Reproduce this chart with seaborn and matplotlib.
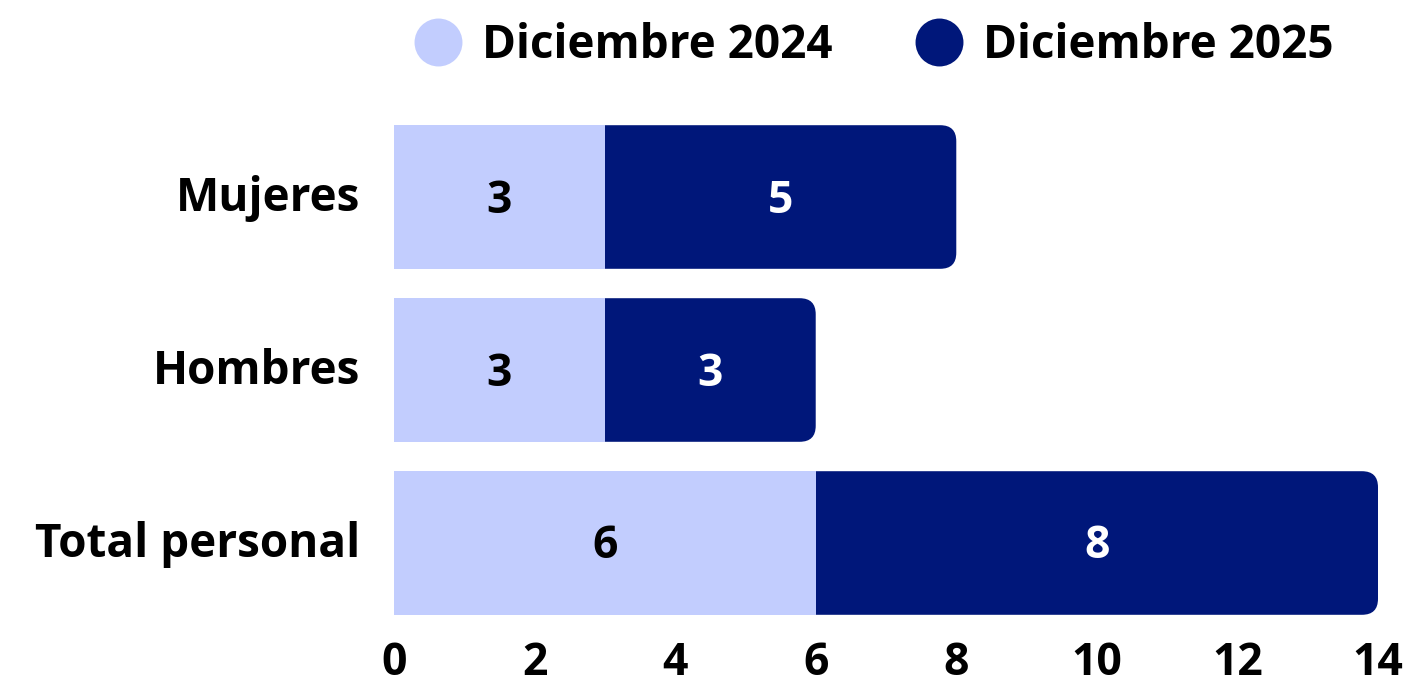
import pandas as pd
import matplotlib.pyplot as plt
import matplotlib.transforms as mtransforms
import seaborn as sns
from matplotlib.path import Path
from matplotlib.patches import PathPatch
from matplotlib.lines import Line2D

# data
categorias = ['Mujeres', 'Hombres', 'Total personal']
dic_2024 = [3, 3, 6]
dic_2025 = [5, 3, 8]
series = ['Diciembre 2024', 'Diciembre 2025']
x_ticks = [0, 2, 4, 6, 8, 10, 12, 14]

color_2024 = '#C2CDFE'
color_2025 = '#00177A'

sns.set_style('white')
plt.rcParams['font.family'] = ['Open Sans', 'DejaVu Sans']
plt.rcParams['font.weight'] = 'bold'
plt.rcParams['text.color'] = 'black'
plt.rcParams['xtick.color'] = 'black'
plt.rcParams['ytick.color'] = 'black'

df = pd.DataFrame({'categoria': categorias, 'd2024': dic_2024, 'd2025': dic_2025})
df['total'] = df['d2024'] + df['d2025']

fig = plt.figure(figsize=(14.22, 6.93), dpi=100)
ax = fig.add_axes([394 / 1422, 1 - 629.5 / 693, 984 / 1422, 519 / 693])

# stacked: draw total in dark, then the 2024 part on top in light
sns.barplot(data=df, y='categoria', x='total', color=color_2025, width=0.83,
            saturation=1, ax=ax, orient='h', linewidth=0, edgecolor='none')
n_dark = len(ax.patches)
sns.barplot(data=df, y='categoria', x='d2024', color=color_2024, width=0.83,
            saturation=1, ax=ax, orient='h', linewidth=0, edgecolor='none')

ax.set_xlim(0, 14)
ax.set_ylim(2.5, -0.5)

# round the right corners of the dark bars
px_x = 984 / 14.0
px_y = 519 / 3.0
r_px = 16
rx, ry = r_px / px_x, r_px / px_y
dark = list(ax.patches[:n_dark])
for p in dark:
    x0, y0 = p.get_x(), p.get_y()
    w, h = p.get_width(), p.get_height()
    x1, y1 = x0 + w, y0 + h
    verts = [(x0, y0), (x1 - rx, y0), (x1, y0), (x1, y0 + ry),
             (x1, y1 - ry), (x1, y1), (x1 - rx, y1), (x0, y1), (x0, y0)]
    codes = [Path.MOVETO, Path.LINETO, Path.CURVE3, Path.CURVE3,
             Path.LINETO, Path.CURVE3, Path.CURVE3, Path.LINETO, Path.CLOSEPOLY]
    ax.add_patch(PathPatch(Path(verts, codes), facecolor=color_2025,
                           edgecolor='none', linewidth=0, zorder=1))
    p.remove()
for p in ax.patches[:len(categorias)]:
    p.set_zorder(3)

# value labels (nudged a few px down like the original)
down = mtransforms.offset_copy(ax.transData, fig=fig, x=0, y=-4, units='dots')
for i, (a, b) in enumerate(zip(dic_2024, dic_2025)):
    ax.text(a / 2, i, str(a), ha='center', va='center', fontsize=32,
            fontweight='bold', color='black', zorder=5, transform=down)
    ax.text(a + b / 2, i, str(b), ha='center', va='center', fontsize=32,
            fontweight='bold', color='white', zorder=5, transform=down)

ax.set_xticks(x_ticks)
ax.set_xticklabels([str(t) for t in x_ticks], fontsize=32, fontweight='bold')
ax.set_yticks(range(len(categorias)))
ax.set_yticklabels(categorias, fontsize=33, fontweight='bold')
ax.tick_params(axis='x', length=0, pad=8)
ax.tick_params(axis='y', length=0, pad=24)
up = mtransforms.ScaledTranslation(0, 4 / 100, fig.dpi_scale_trans)
for lab in ax.get_yticklabels():
    lab.set_transform(lab.get_transform() + up)
ax.set_xlabel('')
ax.set_ylabel('')
sns.despine(ax=ax, left=True, bottom=True)

handles = [Line2D([], [], marker='o', linestyle='none', markersize=34.5,
                  markerfacecolor=c, markeredgecolor='none')
           for c in [color_2024, color_2025]]
fig.legend(handles, series, loc='center', bbox_to_anchor=(872 / 1422, 1 - 46 / 693),
           ncol=2, frameon=False, prop={'weight': 'bold', 'size': 33},
           handletextpad=0.36, columnspacing=1.72, handlelength=1.2)

fig.savefig('out.png', dpi=100)
